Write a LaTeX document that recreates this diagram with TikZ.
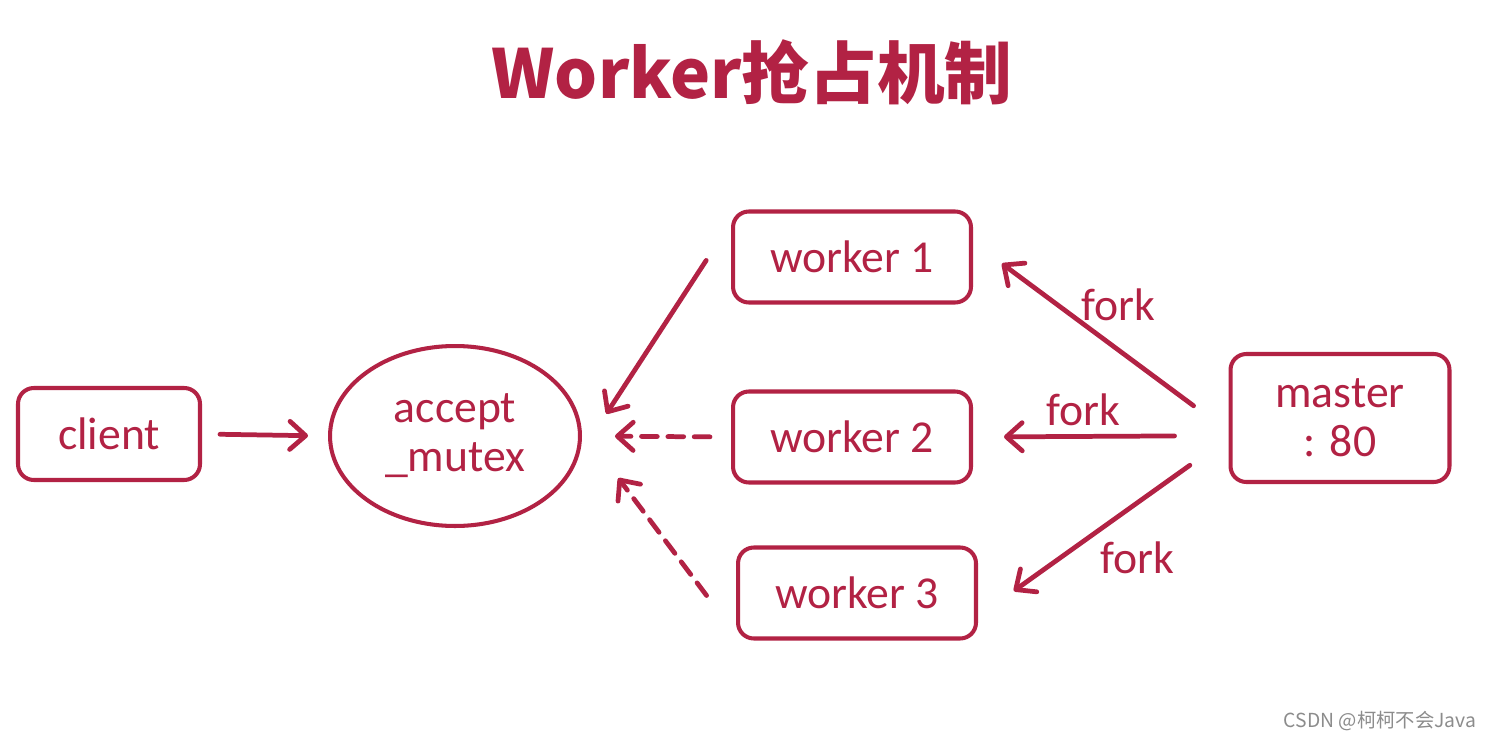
\documentclass[tikz,border=0pt]{standalone}
\usepackage{fontspec}
\setmainfont{Carlito}
\newfontfamily\cjkfont{Noto Sans CJK SC}
\usetikzlibrary{arrows.meta,shapes.geometric}

\definecolor{crimson}{RGB}{178,34,68}

\tikzset{
    box/.style={draw=crimson, line width=2.3pt, rounded corners=9pt,
        text=crimson, font=\fontsize{26}{28}\selectfont, align=center,
        minimum width=4.76cm, minimum height=1.82cm, inner sep=0pt},
    mutexshape/.style={ellipse, draw=crimson, line width=2.3pt,
        text=crimson, font=\fontsize{26}{28}\selectfont, align=center,
        minimum width=5cm, minimum height=3.6cm, inner sep=0pt},
    arr/.style={crimson, line width=2.7pt, line cap=round,
        -{Straight Barb[length=9pt,width=16pt,line cap=round,line join=round]}},
    dasharr/.style={arr, dash pattern=on 9pt off 6pt},
    forklbl/.style={text=crimson, font=\fontsize{26}{28}\selectfont},
}

\begin{document}
\begin{tikzpicture}[x=0.02cm, y=-0.02cm]

    % 背景と範囲
    \fill[white] (0,0) rectangle (1490,740);
    \useasboundingbox (0,0) rectangle (1490,740);

    % タイトル
    \node[text=crimson, font=\cjkfont\bfseries\fontsize{38.5}{42}\selectfont] (title) at (752,72) {Worker抢占机制};

    % ノード
    \node[box, minimum width=3.64cm, minimum height=1.84cm] (client) at (109,434) {client};
    \node[mutexshape] (mutex) at (455,436) {accept\\\_mutex};
    \node[box] (w1) at (852,257) {worker 1};
    \node[box] (w2) at (852,437) {worker 2};
    \node[box] (w3) at (857,593) {worker 3};
    \node[box, minimum width=4.38cm, minimum height=2.56cm] (master) at (1340,418) {master\\ : 80};

    % client から accept_mutex へ
    \draw[arr, shorten <=0.36cm, shorten >=0.4cm] (client.east) -- (mutex.west);

    % worker から accept_mutex へ
    \draw[arr, shorten <=0.91cm, shorten >=1.0cm] (w1.164) -- (mutex.-9);
    \draw[dasharr, shorten <=0.42cm, shorten >=0.66cm] (w2.west) -- (mutex.east);
    \draw[dasharr, shorten <=0.98cm, shorten >=1.22cm] (w3.199) -- (mutex.3);

    % master から fork
    \draw[arr, shorten <=0.87cm, shorten >=0.72cm] (master.187.8) -- (w1.7.4);
    \draw[arr, shorten <=1.08cm, shorten >=0.62cm] (master.189.3) -- (w2.east);
    \draw[arr, shorten <=0.95cm, shorten >=0.88cm] (master.190.1) -- (w3.-11.6);

    % fork のラベル
    \node[forklbl] (fork1) at (1118,305) {fork};
    \node[forklbl] (fork2) at (1083,410) {fork};
    \node[forklbl] (fork3) at (1137,558) {fork};

    % 透かし
    \node[text=black!45, font=\cjkfont\fontsize{11}{12}\selectfont] (mark) at (1380,721) {CSDN @柯柯不会Java};

\end{tikzpicture}
\end{document}
